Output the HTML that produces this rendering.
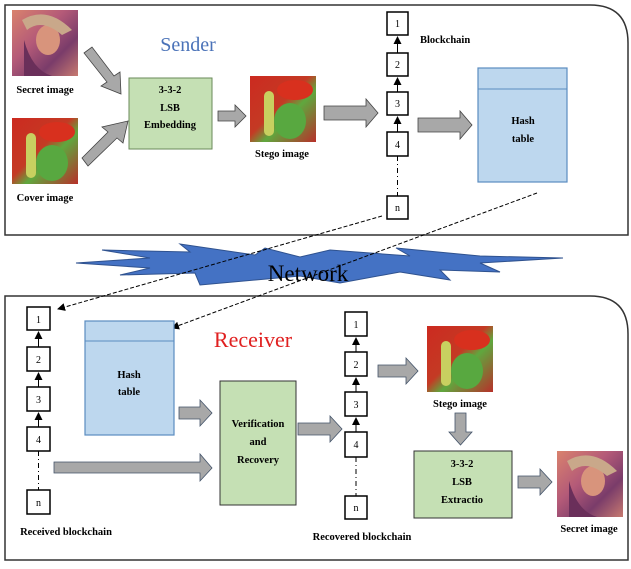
<!DOCTYPE html>
<html><head><meta charset="utf-8"><style>
html,body{margin:0;padding:0;background:#fff;}
body{width:631px;height:564px;position:relative;overflow:hidden;font-family:"Liberation Serif",serif;}
</style></head><body>
<svg width="631" height="564" viewBox="0 0 631 564" xmlns="http://www.w3.org/2000/svg" font-family="Liberation Serif, serif">
<defs>
<linearGradient id="lena" x1="0" y1="0" x2="1" y2="1">
<stop offset="0" stop-color="#d9826d"/><stop offset="0.4" stop-color="#b45a78"/><stop offset="0.7" stop-color="#7a3c6a"/><stop offset="1" stop-color="#c77a70"/></linearGradient>
<linearGradient id="pep" x1="0" y1="0" x2="1" y2="1">
<stop offset="0" stop-color="#cc2a20"/><stop offset="0.45" stop-color="#c43a24"/><stop offset="0.6" stop-color="#5fa83e"/><stop offset="1" stop-color="#b8302a"/></linearGradient>
<marker id="ah" markerWidth="8" markerHeight="8" refX="7" refY="4" orient="auto"><path d="M0,0 L8,4 L0,8 z" fill="#000"/></marker>
<g id="pepper">
<rect width="66" height="66" fill="url(#pep)"/>
<ellipse cx="40" cy="45" rx="16" ry="18" fill="#58a840"/>
<rect x="14" y="15" width="10" height="45" rx="5" fill="#c8d060"/>
<ellipse cx="45" cy="14" rx="18" ry="10" fill="#d8301e"/>
</g>
<g id="lenaimg">
<rect width="66" height="66" fill="url(#lena)"/>
<ellipse cx="36" cy="30" rx="12" ry="15" fill="#d8947c"/>
<path d="M10,10 Q35,-5 60,20 L50,25 Q30,8 15,20z" fill="#c9a88a"/>
<path d="M12,30 Q20,60 40,66 L12,66z" fill="#6a2f5a"/>
</g>
</defs>

<path d="M5,5 H590 Q628,5 628,43 V235 H5 Z" fill="none" stroke="#333" stroke-width="1.5"/>
<path d="M5,296 H590 Q628,296 628,334 V560 H5 Z" fill="none" stroke="#333" stroke-width="1.5"/>

<use href="#lenaimg" x="12" y="10"/>
<text x="45" y="93" font-size="10.5" font-weight="bold" text-anchor="middle">Secret image</text>
<use href="#pepper" x="12" y="118"/>
<text x="45" y="201" font-size="10.5" font-weight="bold" text-anchor="middle">Cover image</text>
<text x="188" y="51" font-size="20" fill="#4a72b8" text-anchor="middle">Sender</text>

<polygon points="84,53 92,47 114,76 120,72 121,94 101,86 107,82" fill="#a8a8a8" stroke="#444" stroke-width="0.8"/>
<polygon points="88,166 82,158 108,132 102,127 128,121 123,143 117,138" fill="#a8a8a8" stroke="#444" stroke-width="0.8"/>

<rect x="129" y="78" width="83" height="71" fill="#c5e0b4" stroke="#6a8a5a" stroke-width="1"/>
<text x="170" y="93" font-size="10.5" font-weight="bold" text-anchor="middle">3-3-2</text>
<text x="170" y="111" font-size="10.5" font-weight="bold" text-anchor="middle">LSB</text>
<text x="170" y="128" font-size="10.5" font-weight="bold" text-anchor="middle">Embedding</text>

<polygon points="218,111 235,111 235,105 246,116 235,127 235,121 218,121" fill="#a8a8a8" stroke="#444" stroke-width="0.8"/>
<use href="#pepper" x="250" y="76"/>
<text x="282" y="157" font-size="10.5" font-weight="bold" text-anchor="middle">Stego image</text>
<polygon points="324,106 366,106 366,99 378,113 366,127 366,120 324,120" fill="#a8a8a8" stroke="#444" stroke-width="0.8"/>

<g stroke="#000">
<rect x="387" y="12" width="21" height="23" fill="#fff" stroke-width="1.5"/>
<rect x="387" y="53" width="21" height="23" fill="#fff" stroke-width="1.5"/>
<rect x="387" y="92" width="21" height="23" fill="#fff" stroke-width="1.5"/>
<rect x="387" y="132" width="21" height="24" fill="#fff" stroke-width="1.5"/>
<rect x="387" y="196" width="21" height="23" fill="#fff" stroke-width="1.5"/>
<line x1="397.5" y1="53" x2="397.5" y2="37" marker-end="url(#ah)"/>
<line x1="397.5" y1="92" x2="397.5" y2="78" marker-end="url(#ah)"/>
<line x1="397.5" y1="132" x2="397.5" y2="117" marker-end="url(#ah)"/>
<line x1="397.5" y1="156" x2="397.5" y2="196" stroke-dasharray="5,3,1,3"/>
</g>
<g font-size="10" text-anchor="middle">
<text x="397.5" y="27">1</text><text x="397.5" y="68">2</text><text x="397.5" y="107">3</text><text x="397.5" y="148">4</text><text x="397.5" y="211">n</text>
</g>
<text x="420" y="43" font-size="10.5" font-weight="bold">Blockchain</text>
<polygon points="418,118 460,118 460,111 472,125 460,139 460,132 418,132" fill="#a8a8a8" stroke="#444" stroke-width="0.8"/>
<rect x="478" y="68" width="89" height="114" fill="#bdd7ee" stroke="#5b8cc0" stroke-width="1.2"/>
<line x1="478" y1="89" x2="567" y2="89" stroke="#5b8cc0"/>
<text x="523" y="124" font-size="10.5" font-weight="bold" text-anchor="middle">Hash</text>
<text x="523" y="142" font-size="10.5" font-weight="bold" text-anchor="middle">table</text>

<polygon points="76,263 150,258 102,250 190,252 180,244 255,255 265,248 300,257 330,250 410,256 396,248 480,256 563,258 480,263 500,272 440,270 450,280 400,272 340,283 300,276 200,285 195,273 120,275 150,268" fill="#4472c4" stroke="#2f528f" stroke-width="1"/>
<text x="308" y="281" font-size="23" text-anchor="middle">Network</text>

<line x1="382" y1="216" x2="58" y2="309" stroke="#000" stroke-width="1" stroke-dasharray="4,2" marker-end="url(#ah)"/>
<line x1="537" y1="193" x2="172" y2="328" stroke="#000" stroke-width="1" stroke-dasharray="4,2" marker-end="url(#ah)"/>

<text x="253" y="347" font-size="22" fill="#e02020" text-anchor="middle">Receiver</text>
<g stroke="#000">
<rect x="27" y="307" width="23" height="23" fill="#fff" stroke-width="1.5"/>
<rect x="27" y="347" width="23" height="24" fill="#fff" stroke-width="1.5"/>
<rect x="27" y="387" width="23" height="24" fill="#fff" stroke-width="1.5"/>
<rect x="27" y="427" width="23" height="24" fill="#fff" stroke-width="1.5"/>
<rect x="27" y="490" width="23" height="24" fill="#fff" stroke-width="1.5"/>
<line x1="38.5" y1="347" x2="38.5" y2="332" marker-end="url(#ah)"/>
<line x1="38.5" y1="387" x2="38.5" y2="373" marker-end="url(#ah)"/>
<line x1="38.5" y1="427" x2="38.5" y2="413" marker-end="url(#ah)"/>
<line x1="38.5" y1="451" x2="38.5" y2="490" stroke-dasharray="5,3,1,3"/>
</g>
<g font-size="10" text-anchor="middle">
<text x="38.5" y="323">1</text><text x="38.5" y="363">2</text><text x="38.5" y="403">3</text><text x="38.5" y="443">4</text><text x="38.5" y="506">n</text>
</g>
<text x="66" y="535" font-size="10.5" font-weight="bold" text-anchor="middle">Received blockchain</text>

<rect x="85" y="321" width="89" height="114" fill="#bdd7ee" stroke="#5b8cc0" stroke-width="1.2"/>
<line x1="85" y1="341" x2="174" y2="341" stroke="#5b8cc0"/>
<text x="129" y="378" font-size="10.5" font-weight="bold" text-anchor="middle">Hash</text>
<text x="129" y="395" font-size="10.5" font-weight="bold" text-anchor="middle">table</text>

<polygon points="179,407 200,407 200,400 212,413 200,426 200,419 179,419" fill="#a8a8a8" stroke="#44546a" stroke-width="0.8"/>
<polygon points="54,462 200,462 200,454 212,468 200,481 200,473 54,473" fill="#a8a8a8" stroke="#44546a" stroke-width="0.8"/>

<rect x="220" y="381" width="76" height="124" fill="#c5e0b4" stroke="#333" stroke-width="1"/>
<text x="258" y="427" font-size="10.5" font-weight="bold" text-anchor="middle">Verification</text>
<text x="258" y="445" font-size="10.5" font-weight="bold" text-anchor="middle">and</text>
<text x="258" y="463" font-size="10.5" font-weight="bold" text-anchor="middle">Recovery</text>
<polygon points="298,423 330,423 330,416 342,429 330,442 330,435 298,435" fill="#a8a8a8" stroke="#44546a" stroke-width="0.8"/>

<g stroke="#000">
<rect x="345" y="312" width="22" height="24" fill="#fff" stroke-width="1.5"/>
<rect x="345" y="352" width="22" height="24" fill="#fff" stroke-width="1.5"/>
<rect x="345" y="392" width="22" height="24" fill="#fff" stroke-width="1.5"/>
<rect x="345" y="432" width="22" height="25" fill="#fff" stroke-width="1.5"/>
<rect x="345" y="496" width="22" height="23" fill="#fff" stroke-width="1.5"/>
<line x1="356" y1="352" x2="356" y2="338" marker-end="url(#ah)"/>
<line x1="356" y1="392" x2="356" y2="378" marker-end="url(#ah)"/>
<line x1="356" y1="432" x2="356" y2="418" marker-end="url(#ah)"/>
<line x1="356" y1="457" x2="356" y2="496" stroke-dasharray="5,3,1,3"/>
</g>
<g font-size="10" text-anchor="middle">
<text x="356" y="328">1</text><text x="356" y="368">2</text><text x="356" y="408">3</text><text x="356" y="448">4</text><text x="356" y="511">n</text>
</g>
<text x="362" y="540" font-size="10.5" font-weight="bold" text-anchor="middle">Recovered blockchain</text>

<polygon points="378,365 406,365 406,358 418,371 406,384 406,377 378,377" fill="#a8a8a8" stroke="#44546a" stroke-width="0.8"/>
<use href="#pepper" x="427" y="326"/>
<text x="460" y="407" font-size="10.5" font-weight="bold" text-anchor="middle">Stego image</text>
<polygon points="455,413 466,413 466,432 472,432 460.5,445 449,432 455,432" fill="#a8a8a8" stroke="#44546a" stroke-width="0.8"/>

<rect x="414" y="451" width="98" height="67" fill="#c5e0b4" stroke="#333" stroke-width="1"/>
<text x="462" y="467" font-size="10.5" font-weight="bold" text-anchor="middle">3-3-2</text>
<text x="462" y="485" font-size="10.5" font-weight="bold" text-anchor="middle">LSB</text>
<text x="462" y="503" font-size="10.5" font-weight="bold" text-anchor="middle">Extractio</text>
<polygon points="518,476 540,476 540,469 552,482 540,495 540,488 518,488" fill="#a8a8a8" stroke="#44546a" stroke-width="0.8"/>
<use href="#lenaimg" x="557" y="451"/>
<text x="589" y="532" font-size="10.5" font-weight="bold" text-anchor="middle">Secret image</text>
</svg>
</body></html>
